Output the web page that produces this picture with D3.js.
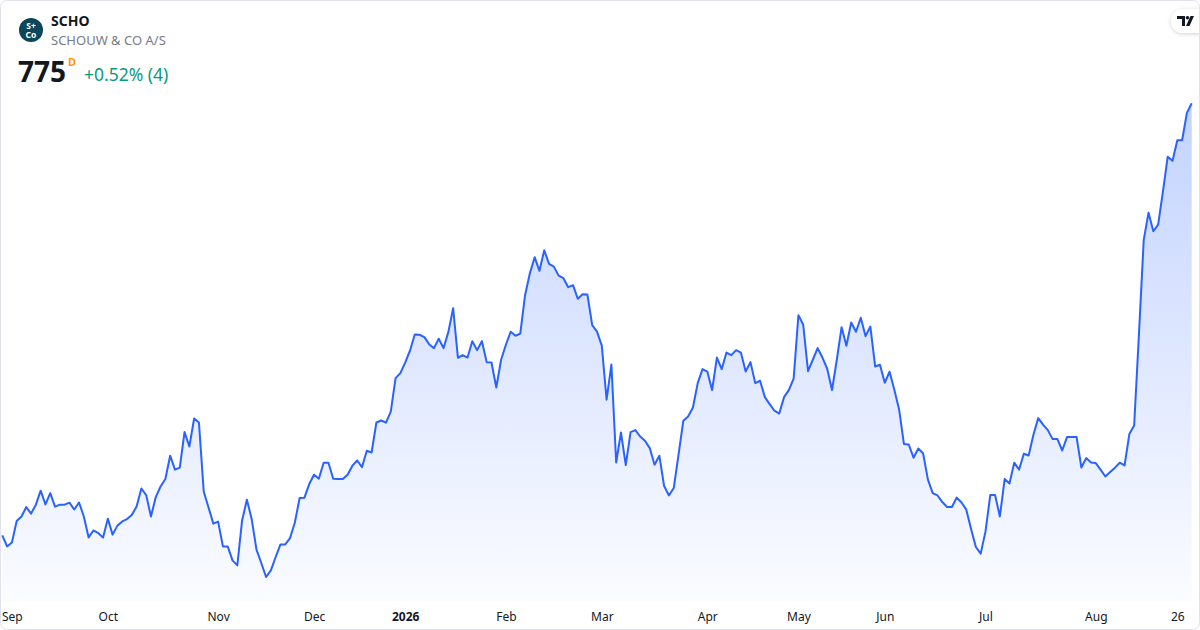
<!DOCTYPE html>
<html>
<head>
<meta charset="utf-8">
<script src="https://cdn.jsdelivr.net/npm/d3@7"></script>
<style>
  html, body { margin: 0; padding: 0; background: #ffffff; }
  #chart { width: 1200px; height: 630px; }
  text { font-family: "Noto Sans", "Open Sans", sans-serif; }
</style>
</head>
<body>
<div id="chart"></div>
<script>
// daily closing prices (DKK), one per trading day
var prices = [
  558.8, 553.3, 555.3, 566.0, 568.3, 573.0, 569.7, 574.2, 581.2, 574.3,
  580.0, 573.2, 574.2, 574.2, 575.2, 571.8, 575.3, 568.3, 557.8, 561.3,
  560.0, 557.7, 567.2, 559.2, 563.7, 565.8, 567.0, 569.0, 573.3, 582.3,
  579.0,
  568.3, 578.0, 583.3, 587.0, 598.7, 591.7, 592.7, 610.5, 603.3, 617.3,
  615.3, 580.8, 572.8, 564.7, 565.7, 553.3, 553.3, 546.3, 543.8, 566.3,
  576.7, 567.0, 551.7, 545.0, 538.0, 541.3, 548.0, 554.3, 554.3, 557.5,
  565.3, 577.5,
  577.7, 584.5, 589.2, 587.2, 595.2, 595.2, 587.2, 587.0, 587.0, 589.2,
  593.7, 596.3, 593.0, 601.2, 600.3, 615.3, 616.3, 615.2, 620.7, 637.5,
  640.0, 645.3, 651.2, 659.3, 659.2, 658.0, 654.5, 652.5, 657.2, 652.5,
  660.5, 672.5, 647.7, 649.0, 647.8, 656.0, 651.5, 656.0, 645.5, 645.3,
  632.8,
  646.7, 654.2, 660.7, 658.7, 659.8, 679.0, 690.0, 698.0, 691.2, 701.5,
  694.7, 693.3, 688.8, 687.5, 683.0, 684.0, 677.2, 679.5, 679.3, 664.0,
  660.8, 653.8, 626.7, 644.3, 595.3, 610.3, 594.0, 610.5, 611.5, 608.3,
  606.2, 602.5, 594.2, 598.7, 583.5, 578.8, 582.5, 599.2, 616.2,
  618.3, 622.8, 635.0, 642.0, 640.8, 631.5, 647.8, 642.0, 650.3, 649.0,
  651.5, 650.3, 640.8, 645.5, 635.0, 636.2, 628.0, 624.5, 621.2, 619.8,
  628.0, 631.5, 637.3, 669.0, 664.2, 641.0, 646.7, 652.5, 647.8, 642.2,
  631.5, 646.7, 663.0, 653.7, 665.3, 660.7, 667.7, 658.5, 663.3,
  643.3, 644.2, 635.2, 640.7, 631.7, 621.7, 604.5, 604.3, 597.7, 602.3,
  599.8, 586.7, 580.0, 578.8, 575.5, 573.0, 573.0, 577.7, 575.3, 571.7,
  562.0, 553.0, 549.7, 560.7, 579.0, 579.0, 568.3, 587.0, 584.8, 595.2,
  591.7, 599.7, 598.8, 609.2, 617.5,
  614.2, 611.5, 607.0, 607.0, 601.3, 608.0, 608.0, 608.0, 592.8, 597.5,
  595.3, 595.0, 591.7, 588.3, 590.5, 592.7, 595.2, 593.8, 609.5, 613.8,
  659.5, 706.7, 720.3, 711.0, 714.3, 730.8, 748.3, 746.2, 756.5, 756.5,
  770.2, 775.0
];

// x axis labels and the trading-day index they sit on
var tickLabels = ["Sep", "Oct", "Nov", "Dec", "2026", "Feb", "Mar", "Apr", "May", "Jun", "Jul", "Aug", "26"];
var tickIndex  = [2, 22, 45, 65, 84, 105, 125, 147, 166, 184, 205, 228, 245];

//Make an SVG Container
var svg = d3.select("#chart").append("svg")
  .attr("width", 1200)
  .attr("height", 630);

//Scales
var x = d3.scaleLinear()
  .domain([0, prices.length - 1])
  .range([2.3, 1191.7]);

var y = d3.scaleLinear()
  .domain([526, 775])
  .range([601, 103.3]);

//Gradient for the area
var defs = svg.append("defs");
var grad = defs.append("linearGradient")
  .attr("id", "areaFill")
  .attr("gradientUnits", "userSpaceOnUse")
  .attr("x1", 0).attr("y1", y(775))
  .attr("x2", 0).attr("y2", 601);
grad.append("stop").attr("offset", "0%").attr("stop-color", "#2962ff").attr("stop-opacity", 0.28);
grad.append("stop").attr("offset", "100%").attr("stop-color", "#2962ff").attr("stop-opacity", 0.02);

var shadow = defs.append("filter").attr("id", "shadow")
  .attr("x", "-50%").attr("y", "-50%").attr("width", "200%").attr("height", "200%");
shadow.append("feDropShadow")
  .attr("dx", 0).attr("dy", 1).attr("stdDeviation", 2)
  .attr("flood-color", "#000").attr("flood-opacity", 0.18);

//Draw the area and the line
var area = d3.area()
  .x(function(d, i) { return x(i); })
  .y0(601)
  .y1(function(d) { return y(d); });

var line = d3.line()
  .x(function(d, i) { return x(i); })
  .y(function(d) { return y(d); });

svg.append("path")
  .datum(prices)
  .attr("d", area)
  .style("fill", "url(#areaFill)");

svg.append("path")
  .datum(prices)
  .attr("d", line)
  .attr("fill", "none")
  .attr("stroke", "#2962ff")
  .attr("stroke-width", 2)
  .attr("stroke-linejoin", "round");

//X axis labels
var xAxis = d3.axisBottom(x)
  .tickValues(tickIndex)
  .tickSize(0)
  .tickPadding(0)
  .tickFormat(function(d, i) { return tickLabels[i]; });

var gx = svg.append("g")
  .attr("transform", "translate(0,612)")
  .call(xAxis);
gx.select(".domain").remove();
gx.selectAll("text")
  .attr("dy", "0.71em")
  .style("font-family", "'Noto Sans', 'Open Sans', sans-serif")
  .style("font-size", "12px")
  .style("fill", "#131722")
  .style("font-weight", function(d, i) { return tickLabels[i] === "2026" ? "bold" : "normal"; });

//Header: logo
svg.append("circle")
  .attr("cx", 31).attr("cy", 30).attr("r", 12)
  .style("fill", "#0b4659");
svg.append("text")
  .attr("x", 31).attr("y", 28.5)
  .attr("text-anchor", "middle")
  .style("font-size", "8.5px").style("font-weight", "bold").style("fill", "#ffffff")
  .text("S+");
svg.append("text")
  .attr("x", 31).attr("y", 37.5)
  .attr("text-anchor", "middle")
  .style("font-size", "8.5px").style("font-weight", "bold").style("fill", "#ffffff")
  .text("Co");

//Header: name and price
svg.append("text")
  .attr("x", 51).attr("y", 26)
  .style("font-size", "14px").style("font-weight", "bold").style("fill", "#131722")
  .text("SCHO");
svg.append("text")
  .attr("x", 51).attr("y", 45)
  .style("font-size", "13px").style("fill", "#787b86")
  .text("SCHOUW & CO A/S");
svg.append("text")
  .attr("x", 18).attr("y", 82)
  .style("font-size", "28px").style("font-weight", "bold").style("fill", "#131722")
  .text("775");
svg.append("text")
  .attr("x", 68).attr("y", 66)
  .style("font-size", "11px").style("font-weight", "bold").style("fill", "#ff9800")
  .text("D");
svg.append("text")
  .attr("x", 84).attr("y", 81)
  .style("font-size", "17.5px").style("fill", "#089981")
  .text("+0.52% (4)");

//TradingView badge, top right
svg.append("rect")
  .attr("x", 1171).attr("y", 9)
  .attr("width", 44).attr("height", 24)
  .attr("rx", 12)
  .style("fill", "#ffffff")
  .attr("filter", "url(#shadow)");
var tv = svg.append("g").attr("transform", "translate(1177,16)").style("fill", "#131722");
tv.append("path").attr("d", "M0,0 H8 V10 H5 V3 H0 Z");
tv.append("circle").attr("cx", 10.5).attr("cy", 1.8).attr("r", 1.8);
tv.append("path").attr("d", "M13.5,0 H17 L12.5,10 H9 Z");

//Frame
svg.append("rect")
  .attr("x", 0.5).attr("y", 0.5)
  .attr("width", 1199).attr("height", 629)
  .attr("rx", 6)
  .style("fill", "none")
  .style("stroke", "#e0e3eb");
</script>
</body>
</html>
